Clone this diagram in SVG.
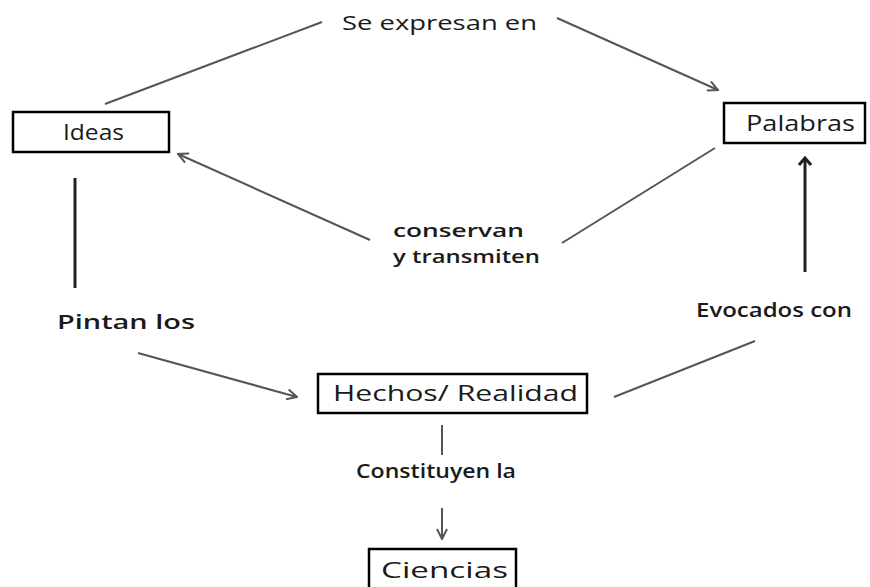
<svg xmlns="http://www.w3.org/2000/svg" width="870" height="587" viewBox="0 0 870 587">
  <style>
    .box { fill: #ffffff; stroke: #000000; stroke-width: 2.5; }
    .lbl { font-family: "Open Sans", "Liberation Sans", sans-serif; font-size: 20px; font-weight: 600; fill: #1a1a1a; }
    .pair { font-family: "Open Sans", "Liberation Sans", sans-serif; font-size: 18.5px; font-weight: 600; fill: #1a1a1a; }
    .top { font-family: "Open Sans", "Liberation Sans", sans-serif; font-size: 20px; font-weight: 500; fill: #1a1a1a; }
    .node { font-family: "Open Sans", "Liberation Sans", sans-serif; font-size: 21px; font-weight: 500; fill: #1a1a1a; }
    .edge { stroke: #555555; stroke-width: 2; fill: none; }
    .dark { stroke: #222222; stroke-width: 3; fill: none; }
  </style>
  <defs>
    <marker id="arrow" viewBox="0 0 12 12" refX="11" refY="6" markerWidth="12" markerHeight="12" markerUnits="userSpaceOnUse" orient="auto">
      <path d="M1,1 L11,6 L1,11" fill="none" stroke="#555555" stroke-width="2"/>
    </marker>
    <marker id="arrowDark" viewBox="0 0 14 14" refX="7" refY="2" markerWidth="14" markerHeight="14" markerUnits="userSpaceOnUse" orient="0">
      <path d="M1,9 L7,2 L13,9" fill="none" stroke="#222222" stroke-width="3"/>
    </marker>
  </defs>

  <rect width="870" height="587" fill="#ffffff"/>

  <!-- connectors and their labels -->
  <g id="connectors">
    <line class="edge" x1="105" y1="104" x2="322" y2="22"/>
    <line class="edge" x1="557" y1="18" x2="718" y2="90" marker-end="url(#arrow)"/>
    <text class="top" x="342" y="30" textLength="195" lengthAdjust="spacingAndGlyphs">Se expresan en</text>

    <line class="edge" x1="715" y1="148" x2="562" y2="243"/>
    <line class="edge" x1="370" y1="240" x2="178" y2="154" marker-end="url(#arrow)"/>
    <text class="pair" x="393" y="237" textLength="131" lengthAdjust="spacingAndGlyphs">conservan</text>
    <text class="pair" x="393" y="263" textLength="147" lengthAdjust="spacingAndGlyphs">y transmiten</text>

    <line class="dark" x1="75" y1="178" x2="75" y2="288"/>
    <text class="lbl" x="57" y="329" textLength="138" lengthAdjust="spacingAndGlyphs">Pintan los</text>
    <line class="edge" x1="138" y1="353" x2="297" y2="397" marker-end="url(#arrow)"/>

    <line class="dark" x1="805" y1="272" x2="805" y2="158" marker-end="url(#arrowDark)"/>
    <text class="lbl" x="696" y="317" textLength="156" lengthAdjust="spacingAndGlyphs">Evocados con</text>
    <line class="edge" x1="614" y1="397" x2="755" y2="341"/>

    <line class="edge" x1="442" y1="425" x2="442" y2="455"/>
    <text class="lbl" x="356" y="478" textLength="160" lengthAdjust="spacingAndGlyphs">Constituyen la</text>
    <line class="edge" x1="442" y1="508" x2="442" y2="539" marker-end="url(#arrow)"/>
  </g>

  <!-- nodes -->
  <g id="ideas">
    <rect class="box" x="13" y="112" width="156" height="40"/>
    <text class="node" x="63" y="140" textLength="61" lengthAdjust="spacingAndGlyphs">Ideas</text>
  </g>
  <g id="palabras">
    <rect class="box" x="724" y="103" width="141" height="40"/>
    <text class="node" x="746" y="131" textLength="109" lengthAdjust="spacingAndGlyphs">Palabras</text>
  </g>
  <g id="hechos">
    <rect class="box" x="318" y="374" width="269" height="39"/>
    <text class="node" x="333" y="401" textLength="245" lengthAdjust="spacingAndGlyphs">Hechos/ Realidad</text>
  </g>
  <g id="ciencias">
    <rect class="box" x="369" y="549" width="147" height="45"/>
    <text class="node" x="381" y="578" textLength="127" lengthAdjust="spacingAndGlyphs">Ciencias</text>
  </g>
</svg>
